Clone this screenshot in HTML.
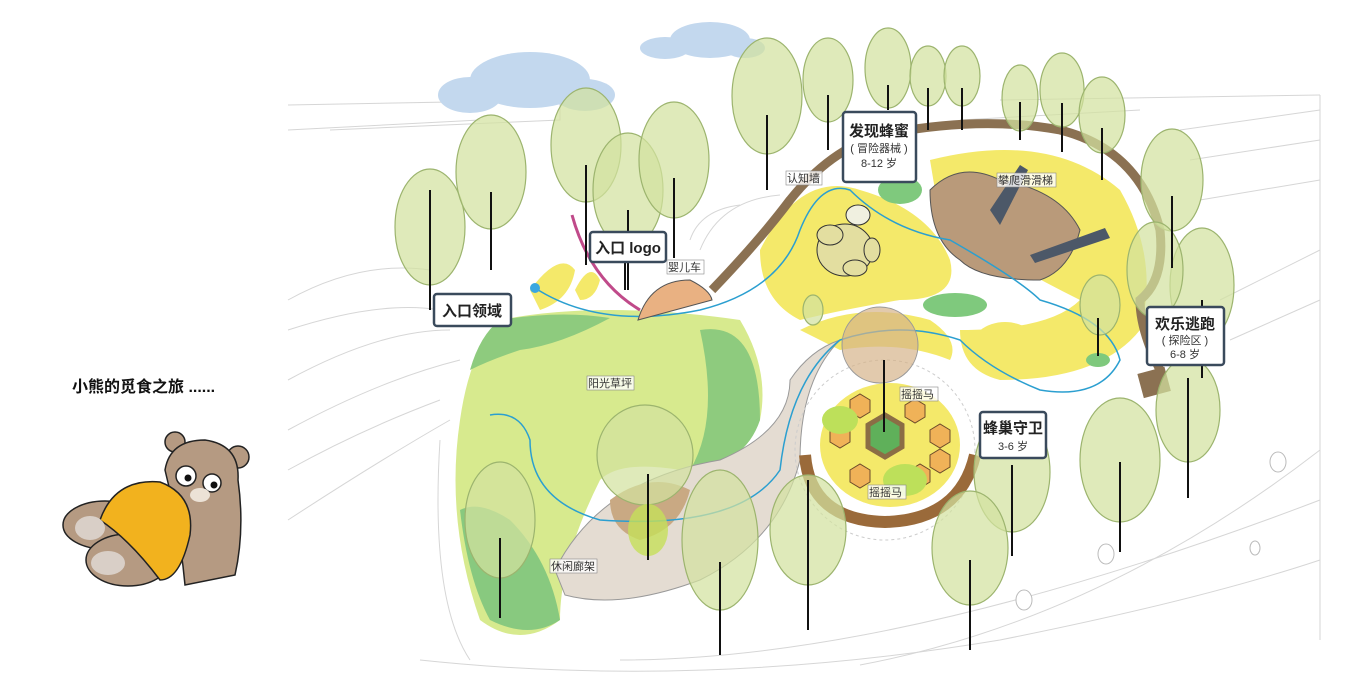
<!DOCTYPE html>
<html><head><meta charset="utf-8"><style>
html,body{margin:0;padding:0;background:#fff;}
svg{display:block;font-family:"Liberation Sans","Noto Sans CJK SC",sans-serif;}
.t{fill:#d3e2a0;fill-opacity:.72;stroke:#9cb46e;stroke-width:1.2}
.l{stroke:#111;stroke-width:2}
.bx{fill:#fff;stroke:#3a4a5c;stroke-width:2.5}
.sm{font-size:11px;fill:#333}
.smb{fill:#fff;fill-opacity:.8;stroke:#888;stroke-width:.6}
</style></head><body>
<svg width="1366" height="675" viewBox="0 0 1366 675">
<g stroke="#d6d6d6" fill="none" stroke-width="1">
<path d="M288 105 L560 100"/><path d="M288 130 L480 120"/><path d="M330 130 L560 120 L560 90"/>
<path d="M288 300 Q360 260 430 270"/><path d="M288 330 Q380 300 440 310"/><path d="M288 380 Q380 330 450 330"/>
<path d="M288 430 Q380 380 460 360"/><path d="M288 470 Q360 430 440 400"/><path d="M288 520 Q380 460 450 420"/>
<path d="M420 660 Q700 690 1000 640 Q1200 600 1320 560"/><path d="M620 660 Q900 660 1320 500"/>
<path d="M860 665 Q1100 620 1320 450"/><path d="M1180 130 L1320 110"/><path d="M1190 160 L1320 140"/>
<path d="M1200 200 L1320 180"/><path d="M1220 300 L1320 250"/><path d="M1230 340 L1320 300"/>
<path d="M1000 100 L1320 95"/><path d="M960 120 L1140 110"/>
<path d="M440 440 Q430 600 470 660"/><path d="M1320 95 L1320 640"/>
<path d="M700 250 Q720 200 780 195"/><path d="M690 240 Q700 210 740 205"/>
</g>
<g fill="#fff" stroke="#bbb"><ellipse cx="1278" cy="462" rx="8" ry="10"/><ellipse cx="1106" cy="554" rx="8" ry="10"/><ellipse cx="1024" cy="600" rx="8" ry="10"/><ellipse cx="1255" cy="548" rx="5" ry="7"/></g>
<g fill="#c3d8ee">
<ellipse cx="530" cy="80" rx="60" ry="28"/><ellipse cx="470" cy="95" rx="32" ry="18"/><ellipse cx="585" cy="95" rx="30" ry="16"/>
<ellipse cx="710" cy="40" rx="40" ry="18"/><ellipse cx="665" cy="48" rx="25" ry="11"/><ellipse cx="745" cy="48" rx="20" ry="10"/>
</g>
<g fill="#f4e96a">
<path d="M760 250 Q800 170 860 190 Q930 210 950 260 Q960 300 900 300 Q840 310 800 320 Q760 300 760 250Z"/>
<path d="M930 160 Q1050 130 1120 190 Q1160 260 1140 330 Q1100 380 1000 380 Q960 370 960 330 Q1050 330 1080 300 Q1000 260 940 220Z"/>
<path d="M530 290 Q560 250 575 270 Q570 300 540 310Z"/>
<path d="M575 290 Q590 260 600 280 Q595 300 580 300Z"/>
<path d="M800 330 Q860 300 930 320 Q960 340 950 360 Q900 340 840 350Z"/>
<ellipse cx="1005" cy="350" rx="35" ry="28"/>
<ellipse cx="890" cy="445" rx="70" ry="62"/>
</g>
<path d="M930 190 Q960 160 1000 180 Q1060 190 1080 230 Q1070 270 1040 280 Q980 280 960 260 Q930 240 930 190Z" fill="#b99a7a" stroke="#555" stroke-width="1"/>
<path d="M990 210 L1020 165 L1028 170 L1000 225Z" fill="#4c5868"/>
<path d="M1030 255 L1105 228 L1110 238 L1035 263Z" fill="#4c5868"/>
<path d="M712 290 Q760 240 790 200 Q830 150 880 135 Q980 115 1060 130 Q1140 150 1160 230 Q1165 280 1140 300 Q1140 330 1160 370" fill="none" stroke="#8b7152" stroke-width="9"/>
<rect x="1140" y="370" width="28" height="25" fill="#8b7152" transform="rotate(-15 1154 382)"/>
<path d="M500 320 Q600 300 740 320 Q770 370 760 420 Q740 470 680 470 Q620 460 600 480 Q560 560 560 620 Q520 650 480 620 Q445 520 460 420 Q470 350 500 320Z" fill="#d7ea8e"/>
<path d="M500 320 Q560 310 610 318 Q560 345 520 350 Q490 360 470 370 Q480 335 500 320Z" fill="#8ecb7e"/>
<path d="M700 330 Q760 320 760 420 Q745 465 690 470 Q720 420 700 330Z" fill="#8ecb7e"/>
<path d="M460 510 Q480 500 510 520 Q550 560 560 620 Q530 640 490 620 Q468 580 460 510Z" fill="#88c97f"/>
<path d="M555 570 Q600 480 720 460 Q790 430 790 380 Q810 350 840 340 Q800 380 800 460 Q780 540 700 580 Q620 610 565 595Z" fill="#e4dcd2" stroke="#999" stroke-width="1"/>
<path d="M610 500 Q650 470 690 490 Q680 530 640 540 Q610 530 610 500Z" fill="#c9a983"/>
<circle cx="885" cy="450" r="90" fill="none" stroke="#ccc" stroke-dasharray="3 3"/>
<path d="M805 455 Q810 520 885 522 Q960 520 975 455" fill="none" stroke="#9a6a3a" stroke-width="12"/>
<g fill="#f0b258" stroke="#6b4a2a" stroke-width="1">
<polygon points="850,400 860,394 870,400 870,412 860,418 850,412"/><polygon points="905,405 915,399 925,405 925,417 915,423 905,417"/>
<polygon points="830,430 840,424 850,430 850,442 840,448 830,442"/><polygon points="930,430 940,424 950,430 950,442 940,448 930,442"/>
<polygon points="850,470 860,464 870,470 870,482 860,488 850,482"/><polygon points="910,470 920,464 930,470 930,482 920,488 910,482"/>
<polygon points="930,455 940,449 950,455 950,467 940,473 930,467"/>
</g>
<polygon points="868,425 885,415 902,425 902,447 885,457 868,447" fill="#5fb05a" stroke="#8b6d45" stroke-width="5"/>
<ellipse cx="840" cy="420" rx="18" ry="14" fill="#bde05a"/><ellipse cx="905" cy="480" rx="22" ry="16" fill="#bde05a"/>
<path d="M535 288 Q600 330 700 310 Q780 290 800 230 Q820 180 850 190 Q890 230 950 240 Q1020 280 1040 300 Q1110 320 1120 360 Q1100 400 1040 390 Q990 370 960 340 Q900 320 840 340 Q790 380 780 470 Q740 530 600 520 Q530 500 530 440 Q520 410 490 415" fill="none" stroke="#2b9fd0" stroke-width="1.5"/>
<circle cx="535" cy="288" r="5" fill="#3aa7e0"/>
<path d="M638 320 Q650 280 690 280 Q710 290 712 300 Z" fill="#e9b182" stroke="#555"/>
<path d="M572 215 Q590 280 640 310" fill="none" stroke="#c04a8a" stroke-width="3"/>
<ellipse cx="900" cy="190" rx="22" ry="14" fill="#7fc97d"/><ellipse cx="955" cy="305" rx="32" ry="12" fill="#7fc97d"/><ellipse cx="1098" cy="360" rx="12" ry="7" fill="#7fc97d"/>
<g stroke="#333" stroke-width="1" fill="#e3dea0">
<ellipse cx="845" cy="250" rx="28" ry="26"/><ellipse cx="830" cy="235" rx="13" ry="10"/><ellipse cx="872" cy="250" rx="8" ry="12"/>
<ellipse cx="855" cy="268" rx="12" ry="8"/><ellipse cx="858" cy="215" rx="12" ry="10" fill="#f0f0e0"/>
</g>
<circle cx="880" cy="345" r="38" fill="#d6b48a" fill-opacity=".7" stroke="#999"/>
<g class="t">
<ellipse cx="430" cy="227" rx="35" ry="58"/><ellipse cx="491" cy="172" rx="35" ry="57"/><ellipse cx="586" cy="145" rx="35" ry="57"/>
<ellipse cx="628" cy="190" rx="35" ry="57"/><ellipse cx="674" cy="160" rx="35" ry="58"/><ellipse cx="767" cy="96" rx="35" ry="58"/>
<ellipse cx="828" cy="80" rx="25" ry="42"/><ellipse cx="888" cy="68" rx="23" ry="40"/><ellipse cx="928" cy="76" rx="18" ry="30"/>
<ellipse cx="962" cy="76" rx="18" ry="30"/><ellipse cx="1020" cy="98" rx="18" ry="33"/><ellipse cx="1062" cy="90" rx="22" ry="37"/>
<ellipse cx="1102" cy="115" rx="23" ry="38"/><ellipse cx="1172" cy="180" rx="31" ry="51"/><ellipse cx="1202" cy="285" rx="32" ry="57"/>
<ellipse cx="1155" cy="270" rx="28" ry="48"/><ellipse cx="1188" cy="410" rx="32" ry="52"/><ellipse cx="1120" cy="460" rx="40" ry="62"/>
<ellipse cx="1012" cy="472" rx="38" ry="60"/><ellipse cx="970" cy="548" rx="38" ry="57"/><ellipse cx="808" cy="530" rx="38" ry="55"/>
<ellipse cx="720" cy="540" rx="38" ry="70"/><ellipse cx="645" cy="455" rx="48" ry="50"/><ellipse cx="500" cy="520" rx="35" ry="58"/>
<ellipse cx="1100" cy="305" rx="20" ry="30"/><ellipse cx="813" cy="310" rx="10" ry="15"/>
</g>
<ellipse cx="648" cy="530" rx="20" ry="26" fill="#c6e05a" fill-opacity=".8"/>
<g class="l">
<line x1="430" y1="190" x2="430" y2="310"/><line x1="491" y1="192" x2="491" y2="270"/><line x1="586" y1="165" x2="586" y2="265"/>
<line x1="628" y1="210" x2="628" y2="290"/><line x1="674" y1="178" x2="674" y2="258"/><line x1="767" y1="115" x2="767" y2="190"/>
<line x1="828" y1="95" x2="828" y2="150"/><line x1="888" y1="85" x2="888" y2="110"/><line x1="928" y1="88" x2="928" y2="130"/>
<line x1="962" y1="88" x2="962" y2="130"/><line x1="1020" y1="102" x2="1020" y2="140"/><line x1="1062" y1="103" x2="1062" y2="152"/>
<line x1="1102" y1="128" x2="1102" y2="180"/><line x1="1172" y1="196" x2="1172" y2="268"/><line x1="1202" y1="300" x2="1202" y2="378"/>
<line x1="1188" y1="378" x2="1188" y2="498"/><line x1="1120" y1="462" x2="1120" y2="552"/><line x1="1012" y1="465" x2="1012" y2="556"/>
<line x1="970" y1="560" x2="970" y2="650"/><line x1="808" y1="480" x2="808" y2="630"/><line x1="720" y1="562" x2="720" y2="655"/>
<line x1="648" y1="474" x2="648" y2="560"/><line x1="500" y1="538" x2="500" y2="618"/><line x1="884" y1="360" x2="884" y2="432"/>
<line x1="625" y1="262" x2="625" y2="290"/><line x1="1098" y1="318" x2="1098" y2="356"/>
</g>
<rect class="bx" x="434" y="294" width="77" height="32" rx="3"/>
<text x="472" y="316" font-size="15" font-weight="bold" text-anchor="middle" fill="#222">入口领域</text>
<rect class="bx" x="590" y="232" width="76" height="30" rx="3"/>
<text x="628" y="253" font-size="15" font-weight="bold" text-anchor="middle" fill="#222">入口 logo</text>
<rect class="bx" x="843" y="112" width="73" height="70" rx="3"/>
<text x="879" y="136" font-size="15" font-weight="bold" text-anchor="middle" fill="#222">发现蜂蜜</text>
<text x="879" y="152" font-size="11" text-anchor="middle" fill="#333">( 冒险器械 )</text>
<text x="879" y="167" font-size="11" text-anchor="middle" fill="#333">8-12 岁</text>
<rect class="bx" x="1147" y="307" width="77" height="58" rx="3"/>
<text x="1185" y="329" font-size="15" font-weight="bold" text-anchor="middle" fill="#222">欢乐逃跑</text>
<text x="1185" y="344" font-size="11" text-anchor="middle" fill="#333">( 探险区 )</text>
<text x="1185" y="358" font-size="11" text-anchor="middle" fill="#333">6-8 岁</text>
<rect class="bx" x="980" y="412" width="66" height="46" rx="3"/>
<text x="1013" y="433" font-size="15" font-weight="bold" text-anchor="middle" fill="#222">蜂巢守卫</text>
<text x="1013" y="450" font-size="11" text-anchor="middle" fill="#333">3-6 岁</text>
<g>
<rect class="smb" x="786" y="171" width="36" height="14"/><text class="sm" x="787" y="182">认知墙</text>
<rect class="smb" x="667" y="260" width="37" height="14"/><text class="sm" x="668" y="271">婴儿车</text>
<rect class="smb" x="997" y="173" width="59" height="14"/><text class="sm" x="998" y="184">攀爬滑滑梯</text>
<rect class="smb" x="587" y="376" width="47" height="14"/><text class="sm" x="588" y="387">阳光草坪</text>
<rect class="smb" x="900" y="387" width="38" height="14"/><text class="sm" x="901" y="398">摇摇马</text>
<rect class="smb" x="868" y="485" width="38" height="14"/><text class="sm" x="869" y="496">摇摇马</text>
<rect class="smb" x="550" y="559" width="47" height="14"/><text class="sm" x="551" y="570">休闲廊架</text>
</g>
<text x="72" y="392" font-size="16" font-weight="bold" fill="#111">小熊的觅食之旅 ......</text>
<g stroke="#222" stroke-width="1.5">
<circle cx="175" cy="442" r="10" fill="#b59a82"/><circle cx="238" cy="457" r="11" fill="#b59a82"/>
<path d="M165 470 Q170 440 205 440 Q240 445 238 480 Q245 530 235 575 L185 585 Q180 530 165 470Z" fill="#b59a82"/>
<ellipse cx="105" cy="525" rx="42" ry="24" fill="#b59a82"/>
<ellipse cx="128" cy="560" rx="42" ry="26" fill="#b59a82"/>
<path d="M100 520 Q115 478 160 482 Q195 495 190 535 Q180 580 160 580 Q130 540 100 520Z" fill="#f2b21e"/>
<circle cx="186" cy="476" r="10" fill="#fff"/><circle cx="212" cy="483" r="9" fill="#fff"/>
</g>
<ellipse cx="200" cy="495" rx="10" ry="7" fill="#ece2d6"/>
<circle cx="188" cy="478" r="3.5" fill="#111"/><circle cx="214" cy="485" r="3.5" fill="#111"/>
<ellipse cx="90" cy="528" rx="15" ry="12" fill="#d9cfc7"/><ellipse cx="108" cy="563" rx="17" ry="12" fill="#d9cfc7"/>
</svg>
</body></html>
